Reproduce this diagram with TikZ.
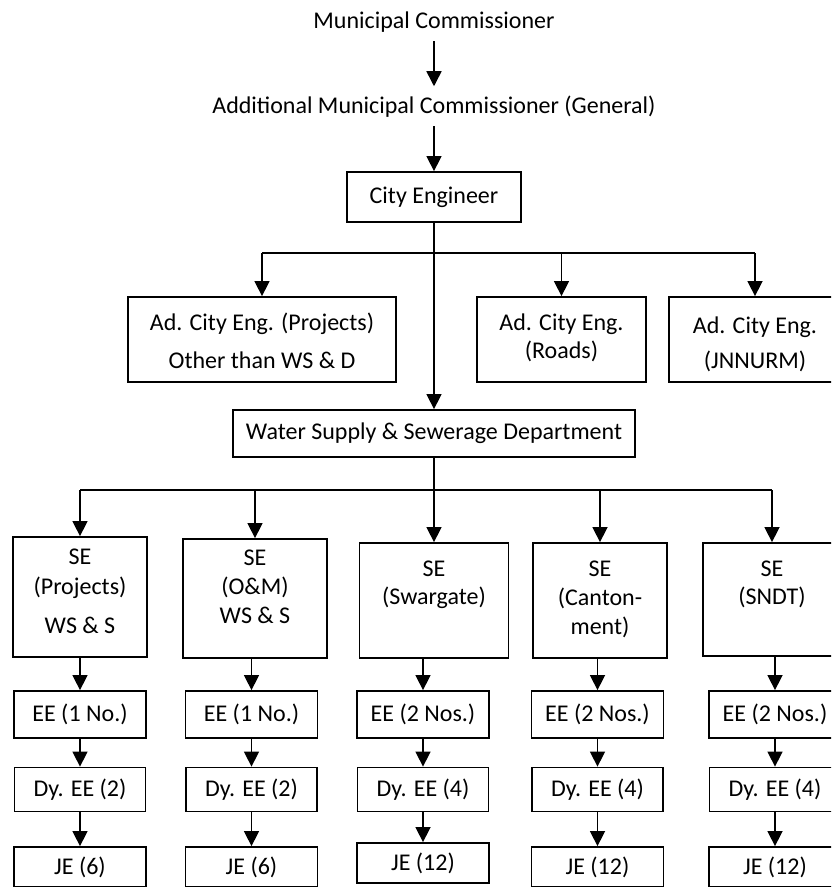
\documentclass[tikz,border=0pt]{standalone}
\usepackage{fontspec}
\setmainfont{Carlito}
\usetikzlibrary{arrows.meta}

% lines set from the top of a box: width, height, gap above, lines
\newcommand{\toplines}[4]{\parbox[c][#2pt][t]{#1pt}{\centering\vspace*{#3pt}\strut#4}}

\begin{document}
\begin{tikzpicture}[x=1pt, y=-1pt,
        every node/.style={font=\fontsize{24}{29}\selectfont},
        rank/.style={inner xsep=0pt, inner ysep=9pt, anchor=base},
        unit/.style={draw, line width=1.8pt, inner sep=0pt},
        conn/.style={line width=1.5pt},
        arr/.style={conn, -{Triangle[width=15pt,length=15pt]}}]
    \useasboundingbox (0,0) rectangle (831,887);
    \clip (0,0) rectangle (831,887);
    % top of the chain
        \node[rank] (mc) at (434,28) {Municipal Commissioner};
        \node[rank] (amc) at (434,113) {Additional Municipal Commissioner (General)};
        \node[unit, minimum width=174pt, minimum height=50pt] (ce) at (434,197) {City Engineer};
        \draw[arr] (mc) -- (amc);
        \draw[arr] (amc) -- (ce);
    % additional city engineers
        \node[unit] (acp) at (262,339.5) {\toplines{268}{85}{13.4}{Ad. City Eng. (Projects)\\[8.6pt]Other than WS \& D}};
        \node[unit] (acr) at (561.5,339.5) {\toplines{169}{85}{13.4}{Ad. City Eng.\\[-1pt](Roads)}};
        \node[unit] (acj) at (755,339.5) {\toplines{172}{85}{15.7}{Ad. City Eng.\\[6pt](JNNURM)}};
        \coordinate (cebus) at (434,253);
        \draw[conn] (acp.north |- cebus) -- (acj.north |- cebus);
        \foreach \b in {acp,acr,acj}{
            \draw[arr] (\b.north |- cebus) -- (\b.north);
        }
    % department
        \node[unit, minimum width=402pt, minimum height=47pt] (ws) at (434,433.5) {Water Supply \& Sewerage Department};
        \draw[arr] (ce) -- (ws);
    % superintending engineers
        \node[unit] (se1) at (80,597) {\toplines{134}{120}{6.7}{SE\\[1pt](Projects)\\[10pt]WS \& S}};
        \node[unit] (se2) at (255,598.5) {\toplines{144}{119}{6.4}{SE\\(O\&M)\\WS \& S}};
        \node[unit] (se3) at (434,600.5) {\toplines{149}{115}{13.4}{SE\\[-1pt](Swargate)}};
        \node[unit] (se4) at (600,600.5) {\toplines{134}{115}{13.4}{SE\\(Canton-\\ment)}};
        \node[unit] (se5) at (772,599.5) {\toplines{138}{113}{13.4}{SE\\[-1pt](SNDT)}};
        \coordinate (wsbus) at (434,490);
        \draw[conn] (ws) -- (wsbus);
        \draw[conn] (se1.north |- wsbus) -- (se5.north |- wsbus);
        \foreach \n in {1,...,5}{
            \draw[arr] (se\n.north |- wsbus) -- (se\n.north);
        }
    % engineers below each circle
        \foreach \n/\x/\ee/\dy/\je/\jy in {1/80/{EE (1 No.)}/{Dy. EE (2)}/{JE (6)}/867,
                2/251.5/{EE (1 No.)}/{Dy. EE (2)}/{JE (6)}/867,
                3/423/{EE (2 Nos.)}/{Dy. EE (4)}/{JE (12)}/863,
                4/597.5/{EE (2 Nos.)}/{Dy. EE (4)}/{JE (12)}/867,
                5/775/{EE (2 Nos.)}/{Dy. EE (4)}/{JE (12)}/867}{
            \node[unit, minimum width=132pt, minimum height=47pt] (ee\n) at (\x,714.5) {\ee};
            \node[unit, minimum width=131pt, minimum height=44pt] (dy\n) at (\x,789.5) {\dy};
            \node[unit, minimum width=132pt, minimum height=40pt] (je\n) at (\x,\jy) {\je};
            \draw[arr] (ee\n.north |- se\n.south) -- (ee\n.north);
            \draw[arr] (ee\n) -- (dy\n);
            \draw[arr] (dy\n) -- (je\n);
        }
\end{tikzpicture}
\end{document}
